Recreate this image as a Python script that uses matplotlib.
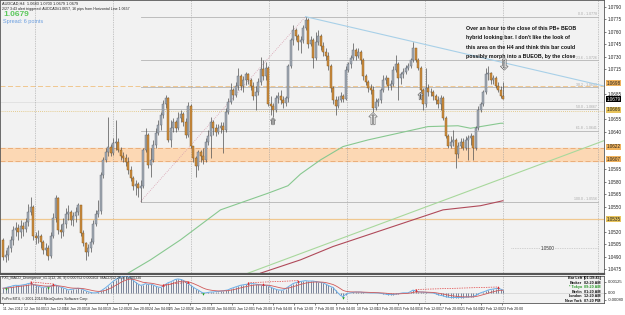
import matplotlib
matplotlib.use("Agg")
import numpy as np
import pandas as pd
import matplotlib.pyplot as plt
import matplotlib.patheffects as pe

OUT = "out.png"
W, H = 625, 315

# AUDCAD H4, one entry per bar (open of each bar = close of the previous one)
FIRST_OPEN = 1.0510
CLOSES = [
    1.0490, 1.0492, 1.0500, 1.0510, 1.0522, 1.0524, 1.0520, 1.0527, 1.0523, 1.0532,
    1.0544, 1.0550, 1.0515, 1.0512, 1.0515, 1.0508, 1.0498, 1.0500, 1.0491, 1.0515,
    1.0536, 1.0560, 1.0522, 1.0520, 1.0529, 1.0541, 1.0544, 1.0534, 1.0539, 1.0544,
    1.0552, 1.0518, 1.0506, 1.0496, 1.0500, 1.0508, 1.0529, 1.0541, 1.0545, 1.0588,
    1.0606, 1.0616, 1.0622, 1.0614, 1.0626, 1.0628, 1.0618, 1.0611, 1.0608, 1.0604,
    1.0594, 1.0584, 1.0575, 1.0577, 1.0572, 1.0575, 1.0618, 1.0636, 1.0600, 1.0606,
    1.0624, 1.0638, 1.0648, 1.0660, 1.0673, 1.0680, 1.0630, 1.0644, 1.0652, 1.0644,
    1.0656, 1.0661, 1.0652, 1.0636, 1.0671, 1.0623, 1.0608, 1.0599, 1.0616, 1.0611,
    1.0606, 1.0628, 1.0635, 1.0652, 1.0644, 1.0640, 1.0644, 1.0647, 1.0642, 1.0664,
    1.0676, 1.0690, 1.0684, 1.0695, 1.0707, 1.0695, 1.0702, 1.0709, 1.0702, 1.0695,
    1.0683, 1.0688, 1.0700, 1.0715, 1.0707, 1.0716, 1.0673, 1.0671, 1.0666, 1.0680,
    1.0683, 1.0678, 1.0674, 1.0680, 1.0719, 1.0750, 1.0762, 1.0755, 1.0748, 1.0750,
    1.0764, 1.0774, 1.0745, 1.0750, 1.0728, 1.0748, 1.0755, 1.0743, 1.0736, 1.0731,
    1.0719, 1.0692, 1.0678, 1.0671, 1.0678, 1.0683, 1.0679, 1.0714, 1.0721, 1.0728,
    1.0738, 1.0731, 1.0736, 1.0726, 1.0707, 1.0700, 1.0692, 1.0690, 1.0668, 1.0676,
    1.0678, 1.0690, 1.0702, 1.0704, 1.0695, 1.0697, 1.0714, 1.0721, 1.0704, 1.0709,
    1.0712, 1.0716, 1.0719, 1.0726, 1.0740, 1.0726, 1.0716, 1.0690, 1.0673, 1.0692,
    1.0688, 1.0687, 1.0683, 1.0678, 1.0673, 1.0680, 1.0656, 1.0635, 1.0623, 1.0628,
    1.0630, 1.0613, 1.0623, 1.0628, 1.0620, 1.0630, 1.0632, 1.0635, 1.0620, 1.0644,
    1.0666, 1.0673, 1.0688, 1.0709, 1.0710, 1.0702, 1.0704, 1.0695, 1.0690, 1.0683,
    1.0679,
]
HIGHS = [
    1.0512, 1.0498, 1.0504, 1.0515, 1.0527, 1.0532, 1.0529, 1.0534, 1.0532, 1.0536,
    1.0553, 1.0562, 1.0552, 1.0520, 1.0522, 1.0517, 1.0510, 1.0506, 1.0504, 1.0520,
    1.0542, 1.0564, 1.0562, 1.0529, 1.0536, 1.0548, 1.0552, 1.0546, 1.0544, 1.0550,
    1.0554, 1.0551, 1.0522, 1.0508, 1.0505, 1.0512, 1.0534, 1.0546, 1.0558, 1.0592,
    1.0610, 1.0620, 1.0658, 1.0625, 1.0632, 1.0654, 1.0632, 1.0622, 1.0616, 1.0613,
    1.0610, 1.0599, 1.0587, 1.0582, 1.0580, 1.0582, 1.0620, 1.0644, 1.0638, 1.0620,
    1.0630, 1.0644, 1.0654, 1.0664, 1.0678, 1.0684, 1.0682, 1.0654, 1.0656, 1.0654,
    1.0664, 1.0666, 1.0664, 1.0656, 1.0676, 1.0673, 1.0623, 1.0611, 1.0618, 1.0618,
    1.0620, 1.0632, 1.0642, 1.0658, 1.0654, 1.0649, 1.0649, 1.0652, 1.0652, 1.0668,
    1.0680, 1.0698, 1.0692, 1.0700, 1.0716, 1.0709, 1.0707, 1.0712, 1.0710, 1.0704,
    1.0700, 1.0695, 1.0704, 1.0730, 1.0726, 1.0724, 1.0719, 1.0683, 1.0674, 1.0684,
    1.0688, 1.0690, 1.0683, 1.0683, 1.0721, 1.0752, 1.0768, 1.0764, 1.0757, 1.0755,
    1.0768, 1.0778, 1.0776, 1.0755, 1.0752, 1.0760, 1.0762, 1.0757, 1.0748, 1.0740,
    1.0736, 1.0721, 1.0695, 1.0683, 1.0683, 1.0688, 1.0685, 1.0719, 1.0724, 1.0732,
    1.0746, 1.0740, 1.0740, 1.0738, 1.0728, 1.0709, 1.0702, 1.0697, 1.0695, 1.0680,
    1.0680, 1.0692, 1.0708, 1.0708, 1.0702, 1.0702, 1.0719, 1.0732, 1.0724, 1.0712,
    1.0716, 1.0720, 1.0722, 1.0728, 1.0748, 1.0738, 1.0728, 1.0719, 1.0692, 1.0716,
    1.0697, 1.0692, 1.0690, 1.0685, 1.0683, 1.0684, 1.0683, 1.0659, 1.0637, 1.0635,
    1.0642, 1.0632, 1.0628, 1.0632, 1.0632, 1.0635, 1.0636, 1.0638, 1.0636, 1.0647,
    1.0671, 1.0676, 1.0690, 1.0716, 1.0719, 1.0712, 1.0708, 1.0707, 1.0700, 1.0695,
    1.0700,
]
LOWS = [
    1.0486, 1.0484, 1.0486, 1.0496, 1.0504, 1.0515, 1.0510, 1.0512, 1.0515, 1.0520,
    1.0527, 1.0540, 1.0510, 1.0505, 1.0506, 1.0500, 1.0493, 1.0492, 1.0486, 1.0488,
    1.0512, 1.0532, 1.0517, 1.0512, 1.0515, 1.0524, 1.0534, 1.0528, 1.0527, 1.0532,
    1.0540, 1.0515, 1.0503, 1.0486, 1.0491, 1.0496, 1.0505, 1.0527, 1.0538, 1.0541,
    1.0584, 1.0604, 1.0611, 1.0611, 1.0612, 1.0618, 1.0616, 1.0606, 1.0604, 1.0599,
    1.0589, 1.0581, 1.0570, 1.0564, 1.0562, 1.0556, 1.0572, 1.0616, 1.0596, 1.0586,
    1.0604, 1.0620, 1.0636, 1.0642, 1.0656, 1.0668, 1.0628, 1.0622, 1.0640, 1.0640,
    1.0642, 1.0652, 1.0647, 1.0632, 1.0634, 1.0620, 1.0604, 1.0586, 1.0594, 1.0604,
    1.0601, 1.0604, 1.0624, 1.0608, 1.0636, 1.0635, 1.0637, 1.0638, 1.0614, 1.0640,
    1.0661, 1.0673, 1.0678, 1.0682, 1.0690, 1.0690, 1.0688, 1.0696, 1.0697, 1.0690,
    1.0678, 1.0666, 1.0684, 1.0696, 1.0702, 1.0702, 1.0671, 1.0660, 1.0658, 1.0664,
    1.0674, 1.0673, 1.0668, 1.0671, 1.0676, 1.0716, 1.0744, 1.0750, 1.0738, 1.0734,
    1.0746, 1.0762, 1.0740, 1.0743, 1.0716, 1.0726, 1.0744, 1.0738, 1.0731, 1.0726,
    1.0714, 1.0688, 1.0673, 1.0660, 1.0668, 1.0676, 1.0676, 1.0678, 1.0712, 1.0716,
    1.0726, 1.0726, 1.0728, 1.0721, 1.0702, 1.0696, 1.0688, 1.0685, 1.0664, 1.0666,
    1.0671, 1.0674, 1.0688, 1.0697, 1.0690, 1.0690, 1.0695, 1.0712, 1.0678, 1.0697,
    1.0704, 1.0709, 1.0714, 1.0716, 1.0724, 1.0724, 1.0714, 1.0688, 1.0666, 1.0670,
    1.0683, 1.0683, 1.0678, 1.0673, 1.0668, 1.0666, 1.0654, 1.0632, 1.0620, 1.0620,
    1.0623, 1.0596, 1.0608, 1.0620, 1.0618, 1.0618, 1.0606, 1.0624, 1.0606, 1.0618,
    1.0642, 1.0664, 1.0671, 1.0685, 1.0702, 1.0697, 1.0697, 1.0692, 1.0688, 1.0680,
    1.0679,
]
# MACD(12,26,9) main value per bar, in units of 1e-4
MACD_E4 = [
    5.5, 6, 7, 7.5, 8.5, 9, 8.8, 9, 9.5, 10,
    11, 11.5, 10, 9, 8, 7, 6.6, 7, 7.5, 8,
    9, 9.5, 8, 7, 6, 5, 3.5, 4, 4.5, 5,
    5.5, 5, 4, 2.5, 1.5, 0.5, 0, 0, 0.5, 2,
    4, 6, 8.5, 11, 13.5, 15.5, 17.5, 18.5, 19.5, 20,
    20, 18, 15, 12.5, 10.5, 9, 9.5, 11, 10, 10.5,
    9.5, 8, 7, 6.5, 8, 10, 12, 13, 14.5, 16,
    16.5, 16, 15, 13, 11, 9, 7, 5, 3.5, 1.5,
    0, 0, 0.5, 1, 1, 1.5, 1.5, 2, 2.5, 3,
    3.5, 5, 6, 7, 8, 9, 9.5, 10, 10.5, 11,
    11, 10.5, 10, 9.5, 9, 9, 8.5, 7, 5.5, 4.5,
    3.5, 3.3, 3.3, 5, 7, 9, 11, 12, 13, 13.5,
    14, 14.5, 14, 14, 14, 13.5, 13, 12.5, 12, 10.5,
    9, 7.5, 6.5, 3, 0, -3, -4.5, -2, -0.5, 0,
    0.5, 1, 1, 1, 0.5, 0.3, 0, 0, 0, 0,
    0, -0.5, -1, -1.5, -2, -2, -2, -1.5, -1, -0.5,
    0, 0, 0, 1.5, 3.3, 2.5, 1.5, 1, 1, 0.5,
    0.3, 0, 0, -1, -2, -3, -3.5, -4.5, -5, -5.5,
    -5.5, -5.5, -5.5, -5.5, -5.5, -5, -5, -4.5, -4.5, -3,
    -1.5, 0, 1, 2, 3.3, 4, 4.5, 5, 5.5, 4.5,
    3.3,
]

# moving averages, read at a handful of bars
MA_GREEN_BARS = [50, 59, 71, 87, 106, 114, 119, 127, 136, 146, 158, 170, 182, 187, 199, 200]
MA_GREEN = [1.0470, 1.0486, 1.0510, 1.0546, 1.0566, 1.0575, 1.0589, 1.0606, 1.0622,
            1.0630, 1.0638, 1.0646, 1.0647, 1.0644, 1.0650, 1.0650]
MA_RED_BARS = [103, 119, 132, 139, 168, 176, 191, 200]
MA_RED = [1.0470, 1.0486, 1.0502, 1.0509, 1.0538, 1.0546, 1.0551, 1.0557]
TREND_GREEN_BARS = [98, 243]
TREND_GREEN = [1.0470, 1.0632]

BAND = (1.0605, 1.0620)
LINE_ORANGE = 1.0535
LINE_YELLOW_DOT = 1.0665
LINE_ORANGE_DASH = 1.0695
LINE_GREY = 1.0676
LINE_TAGGED = 1.0500
FIB_LEVELS = [0.0, 23.6, 38.2, 50.0, 61.8, 100.0]
FIB_FROM, FIB_TO = 55, 121           # swing low bar -> swing high bar
TREND_BLUE = (121, 164)              # the two highs the falling line touches
WEEK_STARTS = [12.8, 44.0, 75.2, 106.4, 137.6, 168.8, 200.0]

PRICE_TICKS = np.arange(1.0475, 1.0791, 0.0015)
AXIS_TAGS = [(1.0698, "#f0b25c"), (1.0666, "#e8c45c"), (1.0622, "#f0b25c"),
             (1.0607, "#f0b25c"), (1.0535, "#e8c45c")]

TIME_LABELS = ["11 Jan 2012", "12 Jan 04:00", "13 Jan 12:00", "16 Jan 20:00", "18 Jan 04:00",
               "19 Jan 12:00", "20 Jan 20:00", "24 Jan 04:00", "25 Jan 12:00", "26 Jan 20:00",
               "30 Jan 04:00", "31 Jan 12:00", "1 Feb 20:00", "3 Feb 04:00", "6 Feb 12:00",
               "7 Feb 20:00", "9 Feb 04:00", "10 Feb 12:00", "13 Feb 20:00", "15 Feb 04:00",
               "16 Feb 12:00", "17 Feb 20:00", "21 Feb 04:00", "22 Feb 12:00", "23 Feb 20:00"]

RED_MARKS = [11, 20, 64, 74, 98, 104, 118, 165, 198]
GREEN_MARKS = [1, 18, 80, 136]

NOTE = ("Over an hour to the close of this PB+ BEOB\n"
        "hybrid looking bar. I don't like the look of\n"
        "this area on the H4 and think this bar could\n"
        "possibly morph into a BUEOB, by the close")

INFO_ROWS = [("Bar Left", "[01:39:45]", "#111111"), ("Broker", "02:20 AM", "#111111"),
             ("* Tokyo", "09:20 AM", "#2a9a2a"), ("Berlin", "01:20 AM", "#111111"),
             ("London", "12:20 AM", "#111111"), ("New York", "07:20 PM", "#111111")]

plt.rcParams["font.family"] = ["Liberation Sans", "DejaVu Sans"]

XL = (-1.2, 240.4)
BG = "#f2f2f2"


def hollow(ax, x, y, glyph, size, va):
    t = ax.text(x, y, glyph, ha="center", va=va, fontsize=size, color="white",
                family="DejaVu Sans", zorder=8)
    t.set_path_effects([pe.Stroke(linewidth=0.9, foreground="#606060"), pe.Normal()])


def main():
    fig = plt.figure(figsize=(W / 100, H / 100), dpi=100)
    fig.patch.set_facecolor("white")
    ax = fig.add_axes([0, 41 / H, 604 / W, 274 / H])
    ax2 = fig.add_axes([0, 12 / H, 604 / W, 27 / H])

    n = len(CLOSES)
    x = np.arange(n)
    closes = np.array(CLOSES)
    opens = np.r_[FIRST_OPEN, closes[:-1]]
    highs = np.maximum(np.array(HIGHS), np.maximum(opens, closes))
    lows = np.minimum(np.array(LOWS), np.minimum(opens, closes))

    ax.set_facecolor(BG)
    ax.set_xlim(*XL)
    ax.set_ylim(1.0469, 1.0798)

    # zone + horizontal lines
    ax.axhspan(*BAND, color="#fcd8b4", zorder=0)
    for lv in BAND:
        ax.axhline(lv, color="#e8a870", lw=0.6, ls=(0, (6, 3)), zorder=1)
    ax.axhline(LINE_ORANGE, color="#f0c890", lw=0.9, zorder=1)
    ax.axhline(LINE_YELLOW_DOT, color="#e0c070", lw=0.6, ls=(0, (1, 1.5)), zorder=1)
    ax.axhline(LINE_ORANGE_DASH, color="#f0c080", lw=0.6, ls=(0, (6, 3)), zorder=1)
    ax.axhline(LINE_GREY, color="#dcdcdc", lw=0.5, zorder=1)
    ax.plot([203, 238], [LINE_TAGGED] * 2, color="#b0b0b0", lw=0.5, ls=(0, (1, 1.5)), zorder=1)
    ax.text(218, LINE_TAGGED, "1.0500", fontsize=3.3, ha="center", va="center", color="#303030",
            bbox=dict(fc=BG, ec="none", pad=0.3), zorder=2)

    # weekly separators
    for s in WEEK_STARTS + [238.0]:
        ax.axvline(s, color="#9a9a9a", lw=0.5, ls=(0, (1, 1.5)), zorder=1)
        ax2.axvline(s, color="#9a9a9a", lw=0.5, ls=(0, (1, 1.5)), zorder=1)

    # fibonacci retracement from swing low to swing high
    lo, hi = LOWS[FIB_FROM], HIGHS[FIB_TO]
    for lvl in FIB_LEVELS:
        p = hi - (hi - lo) * lvl / 100
        ax.plot([FIB_FROM, 238], [p, p], color="#b4b4b4", lw=0.6, zorder=1)
        ax.text(237.5, p + 0.00006, f"{lvl:.1f} - {p:.4f}", fontsize=2.5, ha="right",
                va="bottom", color="#a8a8a8", zorder=2)
    ax.plot([FIB_FROM, FIB_TO], [lo, hi], color="#d8a0b0", lw=0.6, ls=(0, (1, 1.5)), zorder=2)

    # falling trend line through the two highs, rising trend line, moving averages
    a, b = TREND_BLUE
    slope = (HIGHS[b] - HIGHS[a]) / (b - a)
    ax.plot([a, 245], [HIGHS[a], HIGHS[a] + slope * (245 - a)], color="#a8d0e8", lw=0.8, zorder=2)
    ax.plot(TREND_GREEN_BARS, TREND_GREEN, color="#a8d89c", lw=0.8, zorder=2)
    ax.plot(MA_GREEN_BARS, MA_GREEN, color="#88c890", lw=0.8, zorder=2)
    ax.plot(MA_RED_BARS, MA_RED, color="#b04a5a", lw=0.8, zorder=2)

    # candles
    up = closes >= opens
    ax.vlines(x, lows, highs, color="#505050", lw=0.5, zorder=3)
    lo_b = np.minimum(opens, closes)
    h_b = np.maximum(np.abs(closes - opens), 0.00004)
    ax.bar(x[up], h_b[up], bottom=lo_b[up], width=0.8, color="#a3abb4",
           edgecolor="#5e6672", lw=0.3, zorder=4)
    ax.bar(x[~up], h_b[~up], bottom=lo_b[~up], width=0.8, color="#cf8e3e",
           edgecolor="#80561e", lw=0.3, zorder=4)

    # arrows under the lows, over the last bar
    hollow(ax, 108, lows[108] - 0.0001, "\u21e7", 6, "top")
    hollow(ax, 148, lows[148] - 0.0001, "\u21e7", 11, "top")
    hollow(ax, 167, lows[167] - 0.0001, "\u21e7", 6.5, "top")
    hollow(ax, 200.5, highs[200] + 0.0011, "\u21e9", 10, "bottom")

    fig.text(466 / W, 1 - 26 / H, NOTE, fontsize=3.8, fontweight="bold", ha="left", va="top",
             linespacing=2.1, color="#111111", zorder=9)

    # right price scale; scale labels hidden where a line tag sits on top of them
    tag_prices = [p for p, _ in AXIS_TAGS] + [CLOSES[-1]]
    shown = [t for t in PRICE_TICKS if min(abs(t - p) for p in tag_prices) > 0.0006]
    ax.yaxis.tick_right()
    ax.set_yticks(shown)
    ax.set_yticklabels([f"{t:.4f}" for t in shown])
    ax.tick_params(axis="y", length=1.5, width=0.4, labelsize=3.3, pad=1.5, colors="#202020")
    ax.set_xticks([])
    for sp in ax.spines.values():
        sp.set_color("#555555")
        sp.set_linewidth(0.6)
    ax.spines["bottom"].set_linewidth(1.6)
    for p, c in AXIS_TAGS:
        ax.annotate(f"{p:.4f}", (1.0, p), xycoords=("axes fraction", "data"), xytext=(2, 0),
                    textcoords="offset points", fontsize=3.3, va="center", ha="left",
                    color="#202020", bbox=dict(fc=c, ec="none", pad=0.4), annotation_clip=False)
    ax.annotate(f"{CLOSES[-1]:.4f}", (1.0, CLOSES[-1]), xycoords=("axes fraction", "data"),
                xytext=(2, 0), textcoords="offset points", fontsize=3.3, va="center", ha="left",
                color="white", bbox=dict(fc="black", ec="none", pad=0.4), annotation_clip=False)

    # header texts
    fig.text(2 / W, 1 - 2 / H, "AUDCAD,H4  1.0683 1.0700 1.0679 1.0679",
             fontsize=2.8, va="top", color="#222222")
    fig.text(2 / W, 1 - 7 / H, "2/27 3:43 alert triggered: AUDCAD#1.0657, 16 pips from Horizontal Line 1.0657",
             fontsize=2.6, va="top", color="#222222")
    fig.text(3 / W, 1 - 11 / H, f"{CLOSES[-1]:.4f}", fontsize=6, fontweight="bold", va="top", color="#5cc85c")
    fig.text(3 / W, 1 - 19 / H, "Spread: 6 points", fontsize=4, va="top", color="#6a9ee0")

    # MACD sub-window
    m = np.array(MACD_E4)
    sig = pd.Series(m).ewm(span=9, adjust=False).mean().to_numpy()
    ax2.set_facecolor(BG)
    ax2.set_xlim(*XL)
    ax2.set_ylim(-12, 20)
    ax2.axhline(0, color="#c8c8c8", lw=0.4, zorder=1)
    ax2.vlines(x, 0, m, color="#4c5a78", lw=0.5, zorder=2)
    ax2.plot(x, m, color="#6aaee8", lw=0.7, zorder=3)
    ax2.plot(x, sig, color="#d05a5a", lw=0.6, zorder=3)
    for i in RED_MARKS:
        ax2.plot(i, m[i] + 1.5, marker="^", ms=1.8, color="#e02020", mec="none", zorder=4)
    for i in GREEN_MARKS:
        ax2.plot(i, m[i] - 1.5, marker="v", ms=1.8, color="#20a020", mec="none", zorder=4)
    for a_, b_ in [(11, 20), (64, 74), (98, 118), (165, 198)]:
        ax2.plot([a_, b_], [m[a_] + 1.5, m[b_] + 1.5], color="#e04040", lw=0.5, ls=(0, (2, 1.5)), zorder=4)
    ax2.yaxis.tick_right()
    ax2.set_yticks([-8, 0, 13])
    ax2.set_yticklabels(["-0.00080", "0.00", "0.00125"])
    ax2.tick_params(axis="y", length=1.5, width=0.4, labelsize=3.0, pad=1.5, colors="#202020")
    ticks = np.arange(0, 201, 8.32)[:len(TIME_LABELS)]
    ax2.set_xticks(ticks)
    ax2.set_xticklabels(TIME_LABELS)
    ax2.tick_params(axis="x", length=1.5, width=0.4, labelsize=2.6, pad=1.5, colors="#202020")
    for lbl in ax2.get_xticklabels():
        lbl.set_ha("left")
    for sp in ax2.spines.values():
        sp.set_color("#555555")
        sp.set_linewidth(0.6)

    fig.text(2 / W, 1 - 276 / H, "FX5_MACD_Divergence_v1.1(12, 26, 9) 0.000752 0.000202  MACD(12,26,9) 0.000330",
             fontsize=2.6, va="top", color="#222222", zorder=6)
    fig.text(2 / W, 1 - 297 / H, "FxPro MT4, \u00a9 2001-2014 MetaQuotes Software Corp.", fontsize=2.6,
             va="top", color="#222222", zorder=6)
    for k, (name, t, c) in enumerate(INFO_ROWS):
        yy = 1 - (276 + 4.6 * k) / H
        fig.text(582 / W, yy, name, fontsize=2.7, fontweight="bold", ha="right", va="top", color=c, zorder=6)
        fig.text(584 / W, yy, t, fontsize=2.7, fontweight="bold", ha="left", va="top", color=c, zorder=6)

    fig.savefig(OUT, dpi=100, facecolor="white")
    plt.close(fig)


if __name__ == "__main__":
    main()
